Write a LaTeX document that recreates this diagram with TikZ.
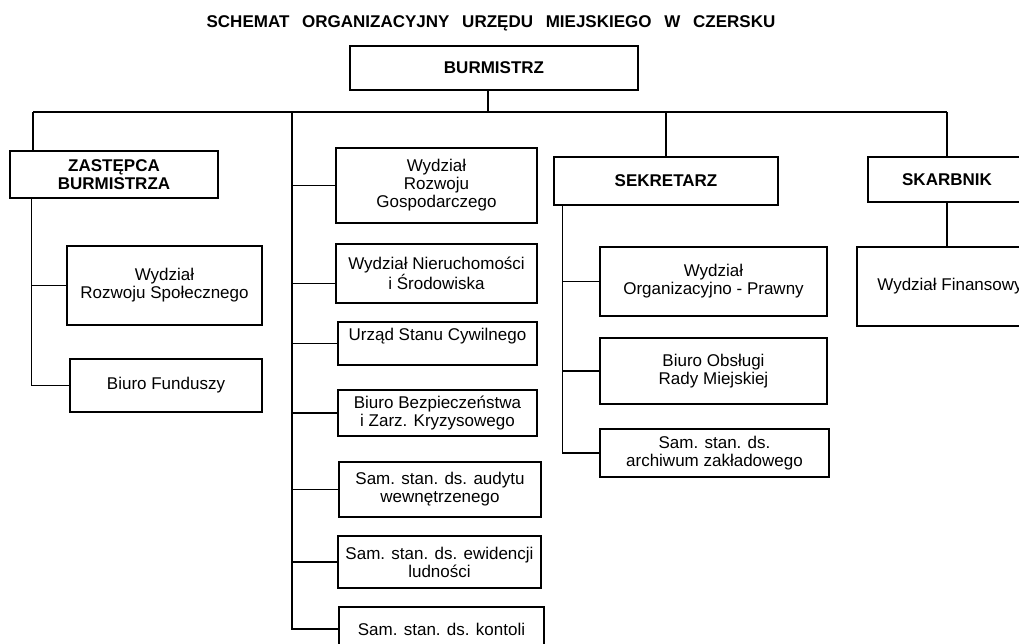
\documentclass[tikz,border=0pt]{standalone}
\usepackage{fontspec}
\setmainfont{Liberation Sans}
\usetikzlibrary{positioning}

\tikzset{
  box/.style={draw, rectangle, align=center, inner sep=0pt,
    font=\fontsize{17}{18}\selectfont},
  headbox/.style={box, font=\fontsize{17}{18}\selectfont\bfseries},
}

\begin{document}
\begin{tikzpicture}[x=1pt, y=-1pt, line width=1.5pt]

    \useasboundingbox (0,0) rectangle (1019,644);
    \clip (0,0) rectangle (1019,644);

    % Title
    \node[font=\fontsize{17}{18}\selectfont\bfseries] (title) at (491,23)
      {SCHEMAT\hskip0.75em ORGANIZACYJNY\hskip0.75em URZĘDU\hskip0.75em MIEJSKIEGO\hskip0.75em W\hskip0.75em CZERSKU};

    % Burmistrz
    \node[headbox, minimum width=288, minimum height=44] (burm) at (494,68) {BURMISTRZ};

    % Heads
    \node[headbox, minimum width=208, minimum height=47] (zast) at (114,174.5) {ZASTĘPCA\\BURMISTRZA};
    \node[headbox, minimum width=224, minimum height=48] (sekr) at (666,181) {SEKRETARZ};
    \node[headbox, minimum width=158, minimum height=45] (skarb) at (947,179.5) {SKARBNIK};

    % Zastepca
    \node[box, minimum width=195, minimum height=79] (wrs) at (164.5,285.5) {Wydział\\Rozwoju Społecznego};
    \node[box, minimum width=192, minimum height=53] (bf) at (166,385.5) {Biuro Funduszy};

    % Burmistrz directly
    \node[box, minimum width=201, minimum height=75] (wrg) at (436.5,185.5) {Wydział\\Rozwoju\\Gospodarczego};
    \node[box, minimum width=201, minimum height=59] (wnis) at (436.5,273.5) {Wydział Nieruchomości\\i Środowiska};
    \node[box, minimum width=199, minimum height=43] (usc) at (437.5,343.5) {Urząd Stanu Cywilnego\\\mbox{}};
    \node[box, minimum width=199, minimum height=46] (bbzk) at (437.5,413) {Biuro Bezpieczeństwa\\i Zarz. Kryzysowego};
    \node[box, minimum width=202, minimum height=55] (audyt) at (440,489.5) {Sam. stan. ds. audytu\\wewnętrzenego};
    \node[box, minimum width=203, minimum height=52] (ewid) at (439.5,562) {Sam. stan. ds. ewidencji\\ludności};
    \node[box, minimum width=205, minimum height=44] (kont) at (441.5,629) {Sam. stan. ds. kontoli};

    % Sekretarz
    \node[box, minimum width=227, minimum height=69] (wop) at (713.5,281.5) {Wydział\\Organizacyjno - Prawny};
    \node[box, minimum width=227, minimum height=66] (bor) at (713.5,371) {Biuro Obsługi\\Rady Miejskiej};
    \node[box, minimum width=229, minimum height=48] (arch) at (714.5,453) {Sam. stan. ds.\\archiwum zakładowego};

    % Skarbnik
    \node[box, minimum width=186, minimum height=79] (wfin) at (950,286.5) {Wydział Finansowy};

    % ================================
    % Lines

    \coordinate (busL) at (33,112);
    \coordinate (busM) at (292,112);
    \coordinate (busR) at (skarb.north |- busL);
    \coordinate (burmout) at ([xshift=-6pt]burm.south);
    \draw (burmout) -- (burmout |- busL);
    \draw (busL) -- (busR);

    \draw (busL) -- (busL |- zast.north);
    \draw (busM) |- (kont.west);
    \draw (sekr.north |- busL) -- (sekr.north);
    \draw (busR) -- (skarb.north);

    % under Burmistrz
    \foreach \n in {wrg, usc, bbzk, audyt, ewid}
      \draw (busM |- \n.west) -- (\n.west);
    \coordinate (wnisin) at ([yshift=-10pt]wnis.west);
    \draw (busM |- wnisin) -- (wnisin);

    % under Zastepca
    \coordinate (zs) at ([xshift=22pt]zast.south west);
    \draw (zs) |- (bf.west);
    \draw (zs |- wrs.west) -- (wrs.west);

    % under Sekretarz
    \coordinate (ss) at ([xshift=9pt]sekr.south west);
    \draw (ss) |- (arch.west);
    \foreach \n in {wop, bor}
      \draw (ss |- \n.west) -- (\n.west);

    % under Skarbnik
    \draw (skarb.south) -- (skarb.south |- wfin.north);

\end{tikzpicture}
\end{document}
